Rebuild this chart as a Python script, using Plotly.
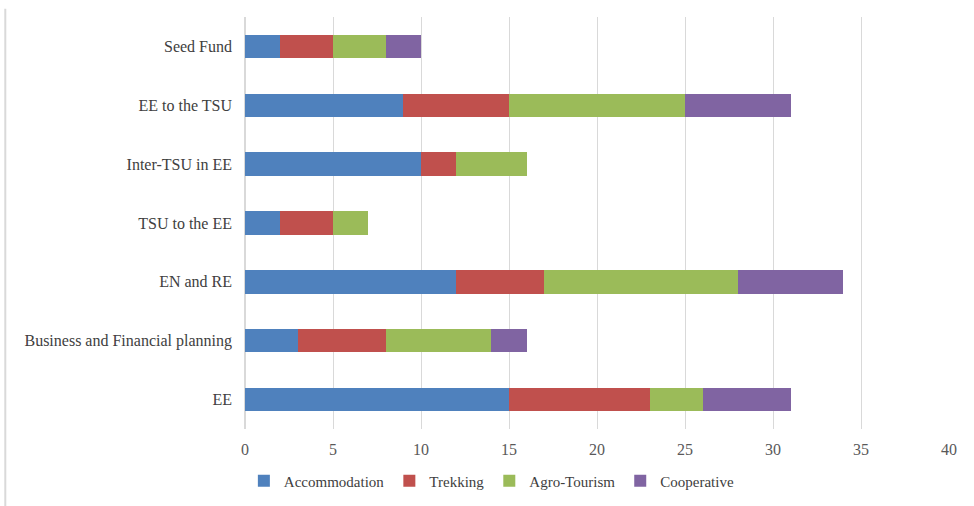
import plotly.graph_objects as go

categories = ["EE", "Business and Financial planning", "EN and RE", "TSU to the EE",
              "Inter-TSU in EE", "EE to the TSU", "Seed Fund"]
accommodation = [15, 3, 12, 2, 10, 9, 2]
trekking = [8, 5, 5, 3, 2, 6, 3]
agro_tourism = [3, 6, 11, 2, 4, 10, 3]
cooperative = [5, 2, 6, 0, 0, 6, 2]
series_names = ["Accommodation", "Trekking", "Agro-Tourism", "Cooperative"]
colors = ["#4F81BD", "#C0504D", "#9BBB59", "#8064A2"]
x_ticks = [0, 5, 10, 15, 20, 25, 30, 35, 40]

fig = go.Figure()
for name, vals, col in zip(series_names, [accommodation, trekking, agro_tourism, cooperative], colors):
    fig.add_trace(go.Bar(y=categories, x=vals, name=name, orientation="h",
                         marker=dict(color=col, line=dict(width=0))))

font = dict(family="Liberation Serif, Times New Roman, serif", size=16, color="#595959")
fig.update_layout(
    barmode="stack",
    bargap=0.6,
    width=974, height=506,
    margin=dict(l=245, r=25, t=17, b=77, autoexpand=False),
    paper_bgcolor="white", plot_bgcolor="white",
    font=font,
    xaxis=dict(range=[0, 40], tickvals=x_ticks, showgrid=True, gridcolor="#d9d9d9",
               gridwidth=1, zeroline=True, zerolinecolor="#d9d9d9", showline=False,
               ticks="", tickfont=dict(size=16, color="#595959"), ticklabelstandoff=9,
               automargin=False),
    yaxis=dict(categoryorder="array", categoryarray=categories, showgrid=False,
               ticks="", ticklabelstandoff=12, tickfont=dict(size=16, color="#404040"),
               automargin=False),
    legend=dict(orientation="h", xref="container", yref="container",
                x=0.505, xanchor="center", y=0.082, yanchor="top",
                font=dict(size=15, color="#404040"), traceorder="normal",
                itemwidth=30),
    showlegend=True,
)
fig.add_shape(type="line", xref="paper", yref="paper",
              x0=-0.3405, x1=-0.3405, y0=-0.2, y1=1.02,
              line=dict(color="#d9d9d9", width=2))
fig.write_html("out.html")
